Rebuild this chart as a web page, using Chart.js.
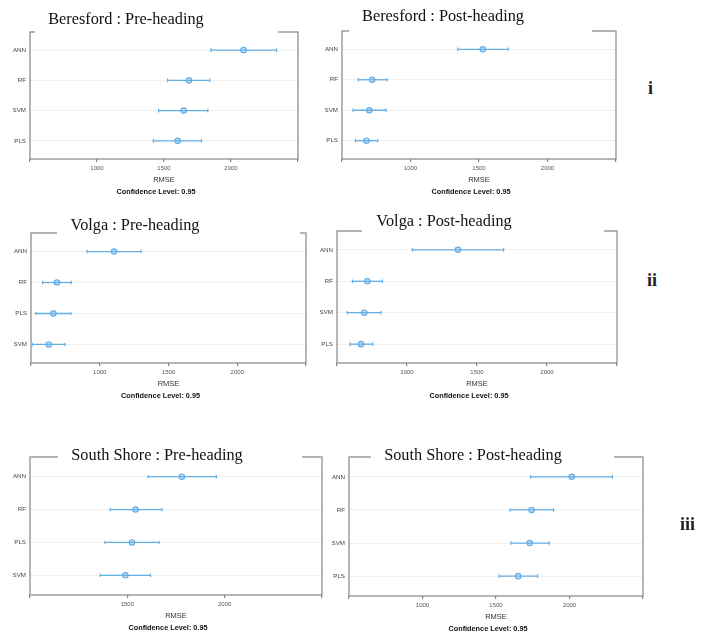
<!DOCTYPE html>
<html>
<head>
<meta charset="utf-8">
<script src="https://cdn.jsdelivr.net/npm/chart.js@4"></script>
<style>
  html, body { margin: 0; padding: 0; background: #fff; }
  #page { position: relative; width: 701px; height: 636px; overflow: hidden; background: #fff; }
  #page canvas { position: absolute; }
  .tag { position: absolute; font-family: "Liberation Serif", serif; font-weight: bold; font-size: 18px; color: #222; line-height: 1; }
</style>
</head>
<body>
<div id="page">
  <canvas id="p1"></canvas>
  <canvas id="p2"></canvas>
  <canvas id="p3"></canvas>
  <canvas id="p4"></canvas>
  <canvas id="p5"></canvas>
  <canvas id="p6"></canvas>
  <div class="tag" style="left:648px; top:79px;">i</div>
  <div class="tag" style="left:647px; top:271px;">ii</div>
  <div class="tag" style="left:680px; top:515px;">iii</div>
</div>
<script>
/* ---------------- RMSE with 95% confidence intervals ---------------- */

// Beresford, pre-heading
const beresfordPreModels = ["ANN", "RF", "SVM", "PLS"];
const beresfordPreRmse   = [2094, 1686, 1647, 1602];
const beresfordPreLower  = [1850, 1527, 1460, 1421];
const beresfordPreUpper  = [2340, 1842, 1827, 1780];

// Beresford, post-heading
const beresfordPostModels = ["ANN", "RF", "SVM", "PLS"];
const beresfordPostRmse   = [1528, 720, 699, 679];
const beresfordPostLower  = [1345, 619, 581, 598];
const beresfordPostUpper  = [1713, 829, 822, 761];

// Volga, pre-heading
const volgaPreModels = ["ANN", "RF", "PLS", "SVM"];
const volgaPreRmse   = [1104, 689, 663, 629];
const volgaPreLower  = [908, 585, 535, 510];
const volgaPreUpper  = [1301, 793, 790, 747];

// Volga, post-heading
const volgaPostModels = ["ANN", "RF", "SVM", "PLS"];
const volgaPostRmse   = [1364, 717, 695, 671];
const volgaPostLower  = [1038, 610, 574, 593];
const volgaPostUpper  = [1690, 824, 814, 755];

// South Shore, pre-heading
const southPreModels = ["ANN", "RF", "PLS", "SVM"];
const southPreRmse   = [1780, 1542, 1524, 1490];
const southPreLower  = [1607, 1412, 1385, 1361];
const southPreUpper  = [1957, 1678, 1663, 1619];

// South Shore, post-heading
const southPostModels = ["ANN", "RF", "SVM", "PLS"];
const southPostRmse   = [2015, 1742, 1729, 1651];
const southPostLower  = [1735, 1595, 1602, 1522];
const southPostUpper  = [2292, 1892, 1863, 1783];

// x tick values (edge ticks are unlabeled)
const xTicksWide   = [500, 1000, 1500, 2000, 2500];
const xTicksNarrow = [1000, 1500, 2000, 2500];

const BLUE = "#64aee6";
const FRAME = "#858585";

// canvas box and plot box are page coordinates [left, top, right, bottom]
const panels = [
  { id: "p1", box: [0, 0, 312, 200], area: [30, 32, 298, 159],
    title: "Beresford : Pre-heading", titleX: 126, titleY: 23.5, gap: [35, 278],
    models: beresfordPreModels, rmse: beresfordPreRmse, lower: beresfordPreLower, upper: beresfordPreUpper,
    xTicks: xTicksWide },
  { id: "p2", box: [312, 0, 630, 200], area: [342, 31, 616, 159],
    title: "Beresford : Post-heading", titleX: 443, titleY: 21, gap: [349, 592],
    models: beresfordPostModels, rmse: beresfordPostRmse, lower: beresfordPostLower, upper: beresfordPostUpper,
    xTicks: xTicksWide },
  { id: "p3", box: [0, 200, 312, 410], area: [31, 233, 306, 363],
    title: "Volga : Pre-heading", titleX: 135, titleY: 230, gap: [57, 300],
    models: volgaPreModels, rmse: volgaPreRmse, lower: volgaPreLower, upper: volgaPreUpper,
    xTicks: xTicksWide },
  { id: "p4", box: [312, 200, 630, 410], area: [337, 231, 617, 363],
    title: "Volga : Post-heading", titleX: 444, titleY: 226, gap: [362, 604],
    models: volgaPostModels, rmse: volgaPostRmse, lower: volgaPostLower, upper: volgaPostUpper,
    xTicks: xTicksWide },
  { id: "p5", box: [0, 410, 335, 636], area: [30, 457, 322, 595],
    title: "South Shore : Pre-heading", titleX: 157, titleY: 460, gap: [58, 302],
    models: southPreModels, rmse: southPreRmse, lower: southPreLower, upper: southPreUpper,
    xTicks: xTicksNarrow },
  { id: "p6", box: [318, 410, 660, 636], area: [349, 457, 643, 596],
    title: "South Shore : Post-heading", titleX: 473, titleY: 460, gap: [371, 614],
    models: southPostModels, rmse: southPostRmse, lower: southPostLower, upper: southPostUpper,
    xTicks: xTicksWide }
];

// frame, titles and axis captions drawn on top of the plot
const framePlugin = {
  id: "frame",
  afterDraw(chart, args, opts) {
    const p = opts.panel;
    const ox = p.box[0], oy = p.box[1];
    const a = chart.chartArea;
    const ctx = chart.ctx;
    ctx.save();
    ctx.strokeStyle = FRAME;
    ctx.lineWidth = 1.2;
    ctx.strokeRect(a.left, a.top, a.right - a.left, a.bottom - a.top);

    // white box behind the title, cutting the top edge of the frame
    const gl = p.gap[0] - ox, gr = p.gap[1] - ox;
    const ty = p.titleY - oy;
    const boxTop = Math.max(0, ty - 17);
    const boxBottom = Math.max(ty + 5, a.top + 2);
    ctx.fillStyle = "#fff";
    ctx.fillRect(gl, boxTop, gr - gl, boxBottom - boxTop);
    ctx.fillStyle = "#111";
    ctx.font = "16.3px 'Liberation Serif', serif";
    ctx.textAlign = "center";
    ctx.textBaseline = "alphabetic";
    ctx.fillText(p.title, p.titleX - ox, ty);

    const cx = (a.left + a.right) / 2;
    ctx.textBaseline = "middle";
    ctx.fillStyle = "#333";
    ctx.font = "7.5px 'Liberation Sans', Arial, sans-serif";
    ctx.fillText("RMSE", cx, a.bottom + 21);
    ctx.fillStyle = "#111";
    ctx.font = "bold 7.3px 'Liberation Sans', Arial, sans-serif";
    ctx.fillText("Confidence Level: 0.95", cx - 8, a.bottom + 33);
    ctx.restore();
  }
};

function buildPanel(p) {
  const canvas = document.getElementById(p.id);
  const [bl, bt, br, bb] = p.box;
  const [al, at, ar, ab] = p.area;
  canvas.width = br - bl;
  canvas.height = bb - bt;
  canvas.style.left = bl + "px";
  canvas.style.top = bt + "px";

  // one two-point line per model for the interval, caps drawn as rotated line markers
  const intervals = p.models.map((m, i) => ({
    label: m + " CI",
    data: [{ x: p.lower[i], y: i }, { x: p.upper[i], y: i }],
    showLine: true,
    borderColor: BLUE,
    borderWidth: 1.3,
    pointStyle: "line",
    rotation: 90,
    pointRadius: 1.8,
    pointBorderWidth: 1.2,
    pointBorderColor: BLUE
  }));

  const means = {
    label: "RMSE",
    data: p.rmse.map((v, i) => ({ x: v, y: i })),
    showLine: false,
    pointStyle: "circle",
    pointRadius: 2.7,
    pointBorderWidth: 1.2,
    pointBorderColor: BLUE,
    pointBackgroundColor: "rgba(150, 200, 240, 0.55)"
  };

  new Chart(canvas.getContext("2d"), {
    type: "scatter",
    data: { datasets: [...intervals, means] },
    options: {
      responsive: false,
      animation: false,
      events: [],
      layout: { padding: { left: 0, top: at - bt, right: br - ar, bottom: 0 } },
      plugins: {
        legend: { display: false },
        tooltip: { enabled: false },
        frame: { panel: p }
      },
      scales: {
        x: {
          type: "linear",
          min: p.xTicks[0],
          max: p.xTicks[p.xTicks.length - 1],
          afterBuildTicks: axis => { axis.ticks = p.xTicks.map(v => ({ value: v })); },
          afterFit: axis => { axis.height = bb - ab; },
          border: { display: false },
          grid: { drawOnChartArea: false, drawTicks: true, tickLength: 3, color: FRAME, lineWidth: 1.2 },
          ticks: {
            autoSkip: false,
            maxRotation: 0,
            padding: 3,
            color: "#555",
            font: { family: "'Liberation Sans', Arial, sans-serif", size: 6 },
            callback: (v, i, arr) => (i === 0 || i === arr.length - 1) ? "" : String(v)
          }
        },
        y: {
          type: "linear",
          reverse: true,
          min: -0.6,
          max: 3.6,
          afterBuildTicks: axis => { axis.ticks = p.models.map((m, i) => ({ value: i })); },
          afterFit: axis => { axis.width = al - bl; },
          border: { display: false },
          grid: { drawTicks: false, color: "#efefef", lineWidth: 1 },
          ticks: {
            autoSkip: false,
            padding: 4,
            color: "#444",
            font: { family: "'Liberation Sans', Arial, sans-serif", size: 6.2 },
            callback: v => p.models[v]
          }
        }
      }
    },
    plugins: [framePlugin]
  });
}

panels.forEach(buildPanel);
</script>
</body>
</html>
